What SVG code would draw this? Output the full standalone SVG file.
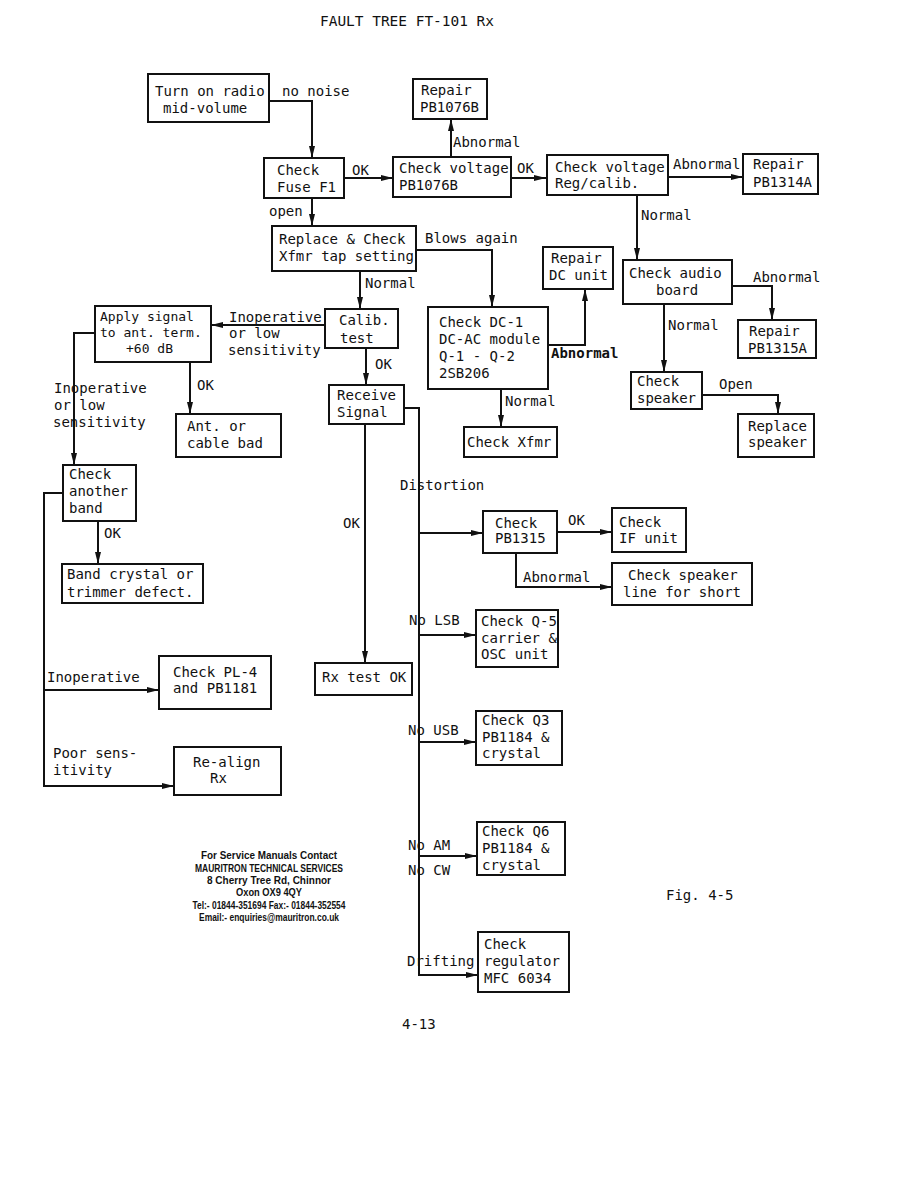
<svg xmlns="http://www.w3.org/2000/svg" width="918" height="1188" viewBox="0 0 918 1188">
<style>
.b{fill:#fff;stroke:#111;stroke-width:2}
.t{font-family:"DejaVu Sans Mono","Liberation Mono",monospace;font-size:14px;fill:#111}
.s{font-size:13px}
.l{font-family:"DejaVu Sans Mono","Liberation Mono",monospace;font-size:14px;fill:#111}
.bold{font-weight:bold}
.c{fill:none;stroke:#111;stroke-width:2}
.m{font-family:"Liberation Sans",Arial,sans-serif;font-size:11px;fill:#111;text-anchor:middle;font-weight:bold}
</style>
<defs>
<marker id="a" viewBox="0 0 12 6" refX="12" refY="3" markerWidth="12" markerHeight="6" markerUnits="userSpaceOnUse" orient="auto"><path d="M0,0 L12,3 L0,6 z" fill="#111"/></marker>
</defs>
<rect width="918" height="1188" fill="#fff"/>
<text class="t" x="320" y="26" textLength="174" lengthAdjust="spacingAndGlyphs">FAULT TREE  FT-101 Rx</text>

<g id="connectors">
<path class="c" marker-end="url(#a)" d="M269,101 H312 V158"/>
<path class="c" marker-end="url(#a)" d="M344,178 H393"/>
<path class="c" marker-end="url(#a)" d="M312,198 V226"/>
<path class="c" marker-end="url(#a)" d="M451,157 V119"/>
<path class="c" marker-end="url(#a)" d="M511,178 H546"/>
<path class="c" marker-end="url(#a)" d="M416,250 H492 V307"/>
<path class="c" marker-end="url(#a)" d="M360,271 V309"/>
<path class="c" marker-end="url(#a)" d="M668,177 H743"/>
<path class="c" marker-end="url(#a)" d="M637,195 V260"/>
<path class="c" marker-end="url(#a)" d="M548,345 H585 V289"/>
<path class="c" marker-end="url(#a)" d="M726,286 H772 V320"/>
<path class="c" marker-end="url(#a)" d="M664,304 V372"/>
<path class="c" marker-end="url(#a)" d="M702,395 H778 V414"/>
<path class="c" marker-end="url(#a)" d="M501,389 V427"/>
<path class="c" marker-end="url(#a)" d="M325,325 H211"/>
<path class="c" marker-end="url(#a)" d="M366,348 V385"/>
<path class="c" marker-end="url(#a)" d="M190,362 V414"/>
<path class="c" marker-end="url(#a)" d="M95,333 H74 V465"/>
<path class="c" marker-end="url(#a)" d="M98,521 V564"/>
<path class="c" marker-end="url(#a)" d="M63,493 H44 V786 H174"/>
<path class="c" marker-end="url(#a)" d="M44,690 H159"/>
<path class="c" marker-end="url(#a)" d="M365,424 V663"/>
<path class="c" marker-end="url(#a)" d="M404,408 H419 V975 H478"/>
<path class="c" marker-end="url(#a)" d="M419,533 H483"/>
<path class="c" marker-end="url(#a)" d="M557,532 H612"/>
<path class="c" marker-end="url(#a)" d="M516,553 V587 H612"/>
<path class="c" marker-end="url(#a)" d="M419,635 H476"/>
<path class="c" marker-end="url(#a)" d="M419,742 H476"/>
<path class="c" marker-end="url(#a)" d="M419,856 H477"/>
</g>

<g id="labels">
<text class="l" x="282" y="96">no noise</text>
<text class="l" x="352" y="175">OK</text>
<text class="l" x="517" y="173">OK</text>
<text class="l" x="453" y="147">Abnormal</text>
<text class="l" x="269" y="216">open</text>
<text class="l" x="425" y="243">Blows again</text>
<text class="l" x="365" y="288">Normal</text>
<text class="l" x="673" y="169">Abnormal</text>
<text class="l" x="641" y="220">Normal</text>
<text class="l" x="753" y="282">Abnormal</text>
<text class="l" x="668" y="330">Normal</text>
<text class="l bold" x="551" y="358">Abnormal</text>
<text class="l" x="719" y="389">Open</text>
<text class="l" x="505" y="406">Normal</text>
<text class="l" x="229" y="322">Inoperative</text>
<text class="l" x="229" y="338">or low</text>
<text class="l" x="228" y="355">sensitivity</text>
<text class="l" x="375" y="369">OK</text>
<text class="l" x="197" y="390">OK</text>
<text class="l" x="54" y="393">Inoperative</text>
<text class="l" x="54" y="410">or low</text>
<text class="l" x="53" y="427">sensitivity</text>
<text class="l" x="104" y="538">OK</text>
<text class="l" x="47" y="682">Inoperative</text>
<text class="l" x="53" y="758">Poor sens-</text>
<text class="l" x="53" y="775">itivity</text>
<text class="l" x="400" y="490">Distortion</text>
<text class="l" x="343" y="528">OK</text>
<text class="l" x="568" y="525">OK</text>
<text class="l" x="523" y="582">Abnormal</text>
<text class="l" x="409" y="625">No LSB</text>
<text class="l" x="408" y="735">No USB</text>
<text class="l" x="408" y="850">No AM</text>
<text class="l" x="408" y="875">No CW</text>
<text class="l" x="407" y="966">Drifting</text>
</g>

<g id="n1"><rect class="b" x="148" y="74" width="121" height="48"/><text class="t" x="155" y="96">Turn on radio</text><text class="t" x="163" y="113">mid-volume</text></g>
<g id="n2"><rect class="b" x="413" y="79" width="74" height="40"/><text class="t" x="421" y="95">Repair</text><text class="t" x="420" y="112">PB1076B</text></g>
<g id="n3"><rect class="b" x="264" y="158" width="80" height="40"/><text class="t" x="277" y="175">Check</text><text class="t" x="277" y="192">Fuse F1</text></g>
<g id="n4"><rect class="b" x="393" y="157" width="118" height="40"/><text class="t" x="399" y="173">Check voltage</text><text class="t" x="399" y="190">PB1076B</text></g>
<g id="n5"><rect class="b" x="272" y="226" width="144" height="45"/><text class="t" x="279" y="244">Replace &amp; Check</text><text class="t" x="279" y="261">Xfmr tap setting</text></g>
<g id="n6"><rect class="b" x="547" y="155" width="121" height="40"/><text class="t" x="555" y="172">Check voltage</text><text class="t" x="555" y="188">Reg/calib.</text></g>
<g id="n7"><rect class="b" x="743" y="154" width="75" height="40"/><text class="t" x="753" y="169">Repair</text><text class="t" x="753" y="187">PB1314A</text></g>
<g id="n8"><rect class="b" x="543" y="247" width="70" height="42"/><text class="t" x="551" y="263">Repair</text><text class="t" x="549" y="280">DC unit</text></g>
<g id="n9"><rect class="b" x="623" y="260" width="109" height="44"/><text class="t" x="629" y="278">Check audio</text><text class="t" x="656" y="295">board</text></g>
<g id="n10"><rect class="b" x="738" y="320" width="78" height="38"/><text class="t" x="749" y="336">Repair</text><text class="t" x="748" y="353">PB1315A</text></g>
<g id="n11"><rect class="b" x="631" y="372" width="71" height="37"/><text class="t" x="637" y="386">Check</text><text class="t" x="637" y="403">speaker</text></g>
<g id="n12"><rect class="b" x="738" y="414" width="76" height="43"/><text class="t" x="748" y="431">Replace</text><text class="t" x="748" y="447">speaker</text></g>
<g id="n13"><rect class="b" x="428" y="307" width="120" height="82"/><text class="t" x="439" y="327">Check DC-1</text><text class="t" x="439" y="344">DC-AC module</text><text class="t" x="439" y="361">Q-1 - Q-2</text><text class="t" x="439" y="378">2SB206</text></g>
<g id="n14"><rect class="b" x="464" y="427" width="93" height="30"/><text class="t" x="467" y="447">Check Xfmr</text></g>
<g id="n15"><rect class="b" x="95" y="306" width="116" height="56"/><text class="t s" x="100" y="321">Apply signal</text><text class="t s" x="100" y="337">to ant. term.</text><text class="t s" x="126" y="353">+60 dB</text></g>
<g id="n16"><rect class="b" x="325" y="309" width="73" height="39"/><text class="t" x="339" y="325">Calib.</text><text class="t" x="340" y="343">test</text></g>
<g id="n17"><rect class="b" x="329" y="385" width="75" height="39"/><text class="t" x="337" y="400">Receive</text><text class="t" x="337" y="417">Signal</text></g>
<g id="n18"><rect class="b" x="176" y="414" width="105" height="43"/><text class="t" x="187" y="431">Ant. or</text><text class="t" x="187" y="448">cable bad</text></g>
<g id="n19"><rect class="b" x="63" y="465" width="73" height="56"/><text class="t" x="69" y="479">Check</text><text class="t" x="69" y="496">another</text><text class="t" x="69" y="513">band</text></g>
<g id="n20"><rect class="b" x="62" y="564" width="141" height="39"/><text class="t" x="67" y="579">Band crystal or</text><text class="t" x="67" y="597">trimmer defect.</text></g>
<g id="n21"><rect class="b" x="159" y="656" width="112" height="53"/><text class="t" x="173" y="677">Check PL-4</text><text class="t" x="173" y="693">and PB1181</text></g>
<g id="n22"><rect class="b" x="174" y="747" width="107" height="48"/><text class="t" x="193" y="767">Re-align</text><text class="t" x="210" y="783">Rx</text></g>
<g id="n23"><rect class="b" x="315" y="663" width="97" height="32"/><text class="t" x="322" y="682">Rx test OK</text></g>
<g id="n24"><rect class="b" x="483" y="511" width="74" height="42"/><text class="t" x="495" y="528">Check</text><text class="t" x="495" y="543">PB1315</text></g>
<g id="n25"><rect class="b" x="612" y="508" width="74" height="44"/><text class="t" x="619" y="527">Check</text><text class="t" x="619" y="543">IF unit</text></g>
<g id="n26"><rect class="b" x="612" y="563" width="140" height="42"/><text class="t" x="628" y="580">Check speaker</text><text class="t" x="623" y="597">line for short</text></g>
<g id="n27"><rect class="b" x="476" y="610" width="82" height="57"/><text class="t" x="481" y="626">Check Q-5</text><text class="t" x="481" y="643">carrier &amp;</text><text class="t" x="481" y="659">OSC unit</text></g>
<g id="n28"><rect class="b" x="476" y="711" width="86" height="54"/><text class="t" x="482" y="725">Check Q3</text><text class="t" x="482" y="742">PB1184 &amp;</text><text class="t" x="482" y="758">crystal</text></g>
<g id="n29"><rect class="b" x="477" y="822" width="88" height="53"/><text class="t" x="482" y="836">Check Q6</text><text class="t" x="482" y="853">PB1184 &amp;</text><text class="t" x="482" y="870">crystal</text></g>
<g id="n30"><rect class="b" x="478" y="932" width="91" height="60"/><text class="t" x="484" y="949">Check</text><text class="t" x="484" y="966">regulator</text><text class="t" x="484" y="983">MFC 6034</text></g>

<g id="footer">
<text class="t" x="666" y="900">Fig. 4-5</text>
<text class="t" x="402" y="1029">4-13</text>
<text class="m" x="269" y="859" textLength="136" lengthAdjust="spacingAndGlyphs">For Service Manuals Contact</text>
<text class="m" x="269" y="872" textLength="148" lengthAdjust="spacingAndGlyphs">MAURITRON TECHNICAL SERVICES</text>
<text class="m" x="269" y="884" textLength="124" lengthAdjust="spacingAndGlyphs">8 Cherry Tree Rd, Chinnor</text>
<text class="m" x="269" y="896" textLength="66" lengthAdjust="spacingAndGlyphs">Oxon OX9 4QY</text>
<text class="m" x="269" y="909" textLength="153" lengthAdjust="spacingAndGlyphs">Tel:- 01844-351694 Fax:- 01844-352554</text>
<text class="m" x="269" y="921" textLength="140" lengthAdjust="spacingAndGlyphs">Email:- enquiries@mauritron.co.uk</text>
</g>
</svg>
